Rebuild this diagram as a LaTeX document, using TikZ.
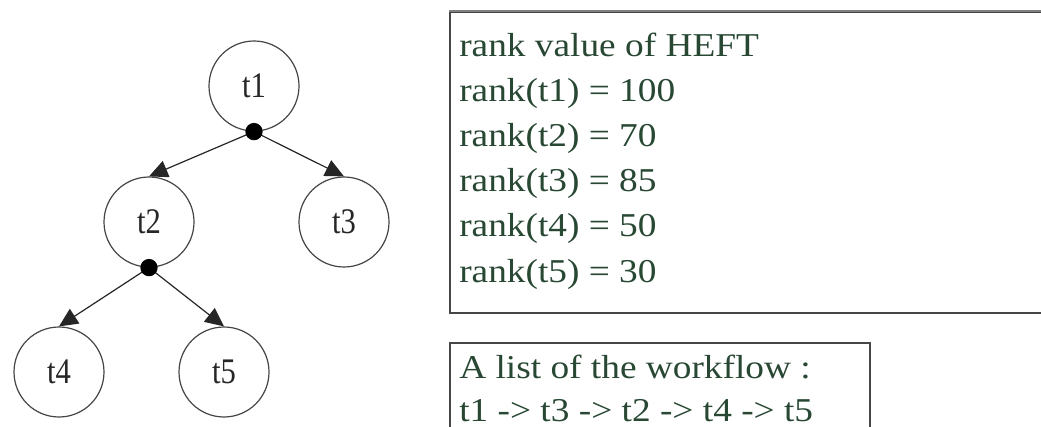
\documentclass[tikz,border=0pt]{standalone}
\usepackage{fontspec}
\setmainfont{Liberation Serif}
\newfontfamily\widefont[FakeStretch=1.12]{Liberation Serif}
\newfontfamily\narrowfont[FakeStretch=0.85]{Liberation Serif}
\usetikzlibrary{arrows.meta}
\definecolor{txtgreen}{RGB}{40,72,52}
\definecolor{edgegray}{RGB}{70,70,70}
\begin{document}
\begin{tikzpicture}[x=0.75pt,y=-0.75pt,
  task/.style={circle,draw=edgegray,line width=0.9pt,minimum size=67.5pt,inner sep=0pt,
    font=\narrowfont\fontsize{27}{30}\selectfont,text=black!85},
  fork/.style={circle,fill=black,minimum size=13pt,inner sep=0pt},
  link/.style={line width=0.9pt,draw=black!85,-{Triangle[length=14pt,width=13pt]}},
  panel/.style={draw=edgegray,line width=1.3pt,rectangle,inner sep=0pt,anchor=north west},
  line/.style={anchor=base west,inner sep=0pt,text=txtgreen,font=\widefont\fontsize{25}{28}\selectfont}]
\useasboundingbox (0,0) rectangle (1041,427);
\fill[white] (0,0) rectangle (1041,427);
% tree
\node[task] (t1) at (254,86) {t1};
\node[task] (t2) at (149,222) {t2};
\node[task] (t3) at (344,222) {t3};
\node[task] (t4) at (59,372) {t4};
\node[task] (t5) at (224,372) {t5};
\coordinate (d1) at (t1.south);
\coordinate (d2) at (t2.south);
\draw[link] (d1) -- (t2.north);
\draw[link] (d1) -- (t3.north);
\draw[link] (d2) -- (t4.north);
\draw[link] (d2) -- (t5.north);
\node[fork] (f1) at (d1) {};
\node[fork] (f2) at (d2) {};
% rank panel
\node[panel,minimum width=450pt,minimum height=225.75pt] (rankbox) at (449,11) {};
\draw[draw=gray,line width=2.2pt] (rankbox.north west) -- (rankbox.north east);
\node[line] (r0) at (459,57) {rank value of HEFT};
\node[line] (r1) at (459,102) {rank(t1) = 100};
\node[line] (r2) at (459,147) {rank(t2) = 70};
\node[line] (r3) at (459,192) {rank(t3) = 85};
\node[line] (r4) at (459,237) {rank(t4) = 50};
\node[line] (r5) at (459,282) {rank(t5) = 30};
% workflow panel
\node[panel,minimum width=315pt,minimum height=80pt] (flowbox) at (449,342) {};
\node[line] (w0) at (459,378) {A list of the workflow :};
\node[line] (w1) at (459,421) {t1 -> t3 -> t2 -> t4 -> t5};
\end{tikzpicture}
\end{document}
